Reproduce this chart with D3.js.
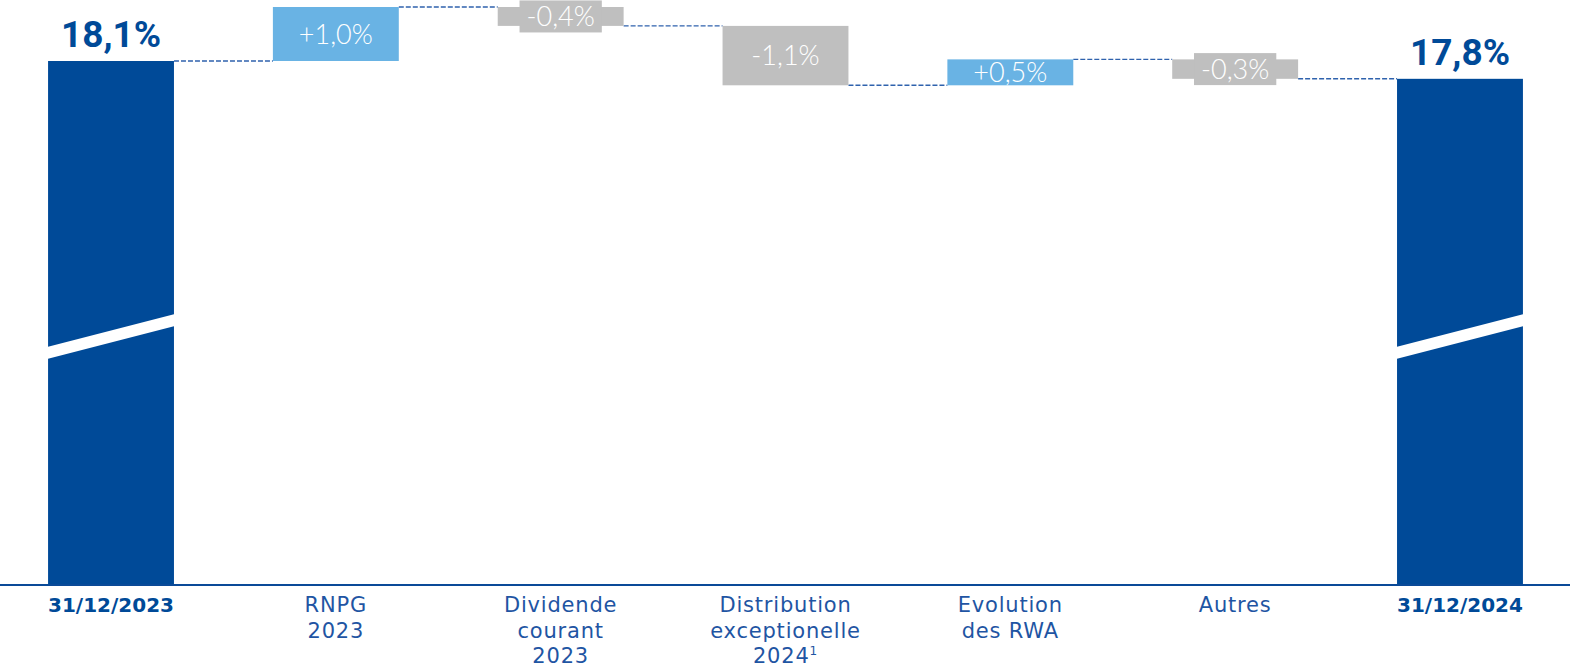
<!DOCTYPE html>
<html>
<head>
<meta charset="utf-8">
<script src="https://cdn.jsdelivr.net/npm/d3@7"></script>
<style>
  html, body { margin: 0; padding: 0; background: #fff; }
  svg { display: block; }
</style>
</head>
<body>
<div id="chart"></div>
<script>
const width = 1570,
  height = 668;

// Data
const categories = ["start", "rnpg", "dividende", "distribution", "rwa", "autres", "end"];
const categoryLabels = [
  ["31/12/2023"],
  ["RNPG", "2023"],
  ["Dividende", "courant", "2023"],
  ["Distribution", "exceptionelle", "2024"],
  ["Evolution", "des RWA"],
  ["Autres"],
  ["31/12/2024"]
];
const startValue = 18.1;
const deltas = [1.0, -0.35, -1.1, 0.48, -0.36];
const deltaLabels = ["+1,0%", "-0,4%", "-1,1%", "+0,5%", "-0,3%"];

const colors = {
  total: "#004a98",
  up: "#69b3e4",
  down: "#bfbfbf",
  connector: "#2f62ad",
  axis: "#0a4a98",
  label: "#1f55a3"
};

// Build the waterfall steps
let running = startValue;
const steps = [{ key: categories[0], type: "total", from: null, to: startValue }];
deltas.forEach((d, i) => {
  steps.push({ key: categories[i + 1], type: d >= 0 ? "up" : "down", from: running, to: running + d, label: deltaLabels[i] });
  running += d;
});
steps.push({ key: categories[6], type: "total", from: null, to: running });

const fmt = v => v.toFixed(1).replace(".", ",") + "%";

const svg = d3.select("#chart")
  .append("svg")
  .attr("width", width)
  .attr("height", height);

// Scales (upper part of a broken axis)
const x = d3.scaleBand()
  .domain(categories)
  .range([-1.4, 1572.4])
  .paddingInner(0.44)
  .paddingOuter(0.22);

const y = d3.scaleLinear()
  .domain([18.1, 19.1])
  .range([61, 7]);

const baseline = 585;

// Connectors
for (let i = 0; i < steps.length - 1; i++) {
  const level = steps[i].to;
  svg.append("line")
    .attr("x1", x(steps[i].key) + x.bandwidth())
    .attr("x2", x(steps[i + 1].key))
    .attr("y1", y(level))
    .attr("y2", y(level))
    .attr("stroke", colors.connector)
    .attr("stroke-width", 1.4)
    .attr("stroke-dasharray", "5,2");
}

// Total bars
const totals = steps.filter(d => d.type === "total");
svg.selectAll(".total")
  .data(totals)
  .enter()
  .append("rect")
  .attr("class", "total")
  .attr("x", d => x(d.key))
  .attr("y", d => y(d.to))
  .attr("width", x.bandwidth())
  .attr("height", d => baseline - y(d.to))
  .attr("fill", colors.total);

// Axis break bands
svg.selectAll(".break")
  .data(totals)
  .enter()
  .append("polygon")
  .attr("class", "break")
  .attr("fill", "#fff")
  .attr("points", d => {
    const x0 = x(d.key) - 1, x1 = x(d.key) + x.bandwidth() + 1;
    return [[x0, 347], [x1, 314], [x1, 326], [x0, 359]].map(p => p.join(",")).join(" ");
  });

// Total labels
svg.selectAll(".total-label")
  .data(totals)
  .enter()
  .append("text")
  .attr("x", d => x(d.key) + x.bandwidth() / 2)
  .attr("y", d => y(d.to) - 14)
  .attr("text-anchor", "middle")
  .attr("font-family", "Roboto, 'Open Sans', sans-serif")
  .attr("font-weight", 700)
  .attr("font-size", 37)
  .attr("fill", colors.total)
  .text(d => fmt(d.to));

// Delta bars
const moves = steps.filter(d => d.type !== "total");
const moveG = svg.selectAll(".move")
  .data(moves)
  .enter()
  .append("g")
  .attr("class", "move");

moveG.append("rect")
  .attr("x", d => x(d.key))
  .attr("y", d => y(Math.max(d.from, d.to)))
  .attr("width", x.bandwidth())
  .attr("height", d => Math.abs(y(d.from) - y(d.to)))
  .attr("fill", d => colors[d.type]);

moveG.each(function(d) {
  const g = d3.select(this);
  const cx = x(d.key) + x.bandwidth() / 2;
  const cy = (y(d.from) + y(d.to)) / 2;
  const h = Math.abs(y(d.from) - y(d.to));
  const t = g.append("text")
    .attr("x", cx)
    .attr("y", cy)
    .attr("dy", "0.36em")
    .attr("text-anchor", "middle")
    .attr("font-family", "Lato, 'Open Sans', sans-serif")
    .attr("font-weight", 300)
    .attr("font-size", 27)
    .attr("fill", "#fff")
    .text(d.label);
  if (h < 24) {
    const w = t.node().getComputedTextLength() + 14;
    g.insert("rect", "text")
      .attr("x", cx - w / 2)
      .attr("y", cy - 16)
      .attr("width", w)
      .attr("height", 32)
      .attr("fill", colors[d.type]);
  }
});

// Axis line
svg.append("line")
  .attr("x1", 0)
  .attr("x2", width)
  .attr("y1", baseline)
  .attr("y2", baseline)
  .attr("stroke", colors.axis)
  .attr("stroke-width", 2);

// Category labels
categories.forEach((c, i) => {
  const isTotal = i === 0 || i === categories.length - 1;
  const t = svg.append("text")
    .attr("x", x(c) + x.bandwidth() / 2)
    .attr("y", 612)
    .attr("text-anchor", "middle")
    .attr("font-family", "'DejaVu Sans', sans-serif")
    .attr("font-size", isTotal ? 20 : 21)
    .attr("font-weight", isTotal ? 700 : 400)
    .attr("letter-spacing", isTotal ? 0 : 0.8)
    .attr("fill", isTotal ? colors.total : colors.label);
  categoryLabels[i].forEach((line, j) => {
    t.append("tspan")
      .attr("x", x(c) + x.bandwidth() / 2)
      .attr("dy", j === 0 ? 0 : 25.5)
      .text(line);
    if (c === "distribution" && j === 2) {
      t.append("tspan")
        .attr("dy", -8)
        .attr("font-size", 12)
        .text("1");
    }
  });
});
</script>
</body>
</html>
